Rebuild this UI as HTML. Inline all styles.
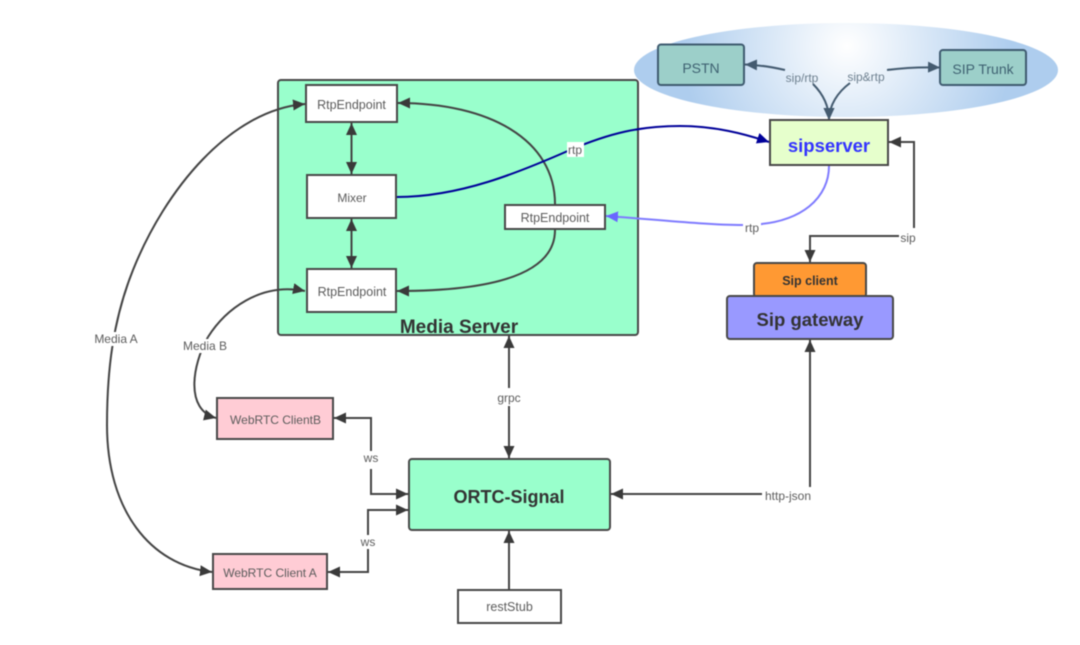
<!DOCTYPE html>
<html><head><meta charset="utf-8"><style>
html,body{margin:0;padding:0;background:#fff}
svg{display:block;filter:blur(.5px)}
text{font-family:"Liberation Sans","DejaVu Sans",sans-serif;text-anchor:middle;fill:#5c5c5c}
.b{font-weight:bold;fill:#333}
.l{fill:none;stroke:#444;stroke-width:2}
.n{stroke:#484848;stroke-width:2}
.lb{fill:#fff}
.sl{fill:none;stroke:#445b70;stroke-width:2}
</style></head><body>
<svg width="1080" height="645" viewBox="0 0 1080 645" xmlns="http://www.w3.org/2000/svg">
<defs>
<radialGradient id="g" gradientUnits="userSpaceOnUse" cx="847" cy="46" r="165">
<stop offset="0" stop-color="#fff"/><stop offset="1" stop-color="#aecdee"/></radialGradient>
<marker id="a" markerUnits="userSpaceOnUse" markerWidth="14" markerHeight="12" refX="12" refY="5.500" orient="auto-start-reverse"><path d="M0 0L12 5.500L0 11z" fill="#3a3a3a"/></marker>
<marker id="s" markerUnits="userSpaceOnUse" markerWidth="14" markerHeight="12" refX="12" refY="5.500" orient="auto-start-reverse"><path d="M0 0L12 5.500L0 11z" fill="#445b70"/></marker>
<marker id="d" markerUnits="userSpaceOnUse" markerWidth="14" markerHeight="12" refX="12" refY="5.500" orient="auto"><path d="M0 0L12 5.500L0 11z" fill="#000099"/></marker>
<marker id="v" markerUnits="userSpaceOnUse" markerWidth="14" markerHeight="12" refX="12" refY="5.500" orient="auto"><path d="M0 0L12 5.500L0 11z" fill="#6a66ff"/></marker>
</defs>
<rect width="1080" height="645" fill="#fff"/>
<ellipse cx="846" cy="70" rx="212" ry="47" fill="url(#g)"/>
<rect x="658" y="44.500" width="86" height="40.500" rx="3" fill="#9ccfc9" stroke="#3f5b70" stroke-width="2"/>
<rect x="940" y="50" width="86" height="35" rx="3" fill="#9ccfc9" stroke="#3f5b70" stroke-width="2"/>
<text x="701" y="73" font-size="14" style="fill:#3f6272">PSTN</text>
<text x="983" y="74" font-size="14" style="fill:#3f6272">SIP Trunk</text>
<path class="sl" d="M785 70C772 67 760 65 745 64.500" marker-end="url(#s)"/>
<path class="sl" d="M887 70C902 68 922 67 940 67.500" marker-end="url(#s)"/>
<path class="sl" d="M813 84C822 93 829 105 829 120" marker-end="url(#s)"/>
<path class="sl" d="M850 83C838 92 829 105 829 120" marker-end="url(#s)"/>
<rect x="278" y="80" width="360" height="255" rx="3" fill="#99ffcc" class="n"/>
<path class="l" d="M351.500 123V174" marker-start="url(#a)" marker-end="url(#a)"/>
<path class="l" d="M351.500 219V268" marker-start="url(#a)" marker-end="url(#a)"/>
<path class="l" d="M555 204C555 140 490 103 398 103" marker-end="url(#a)"/>
<path class="l" d="M555 230C555 275 490 291 397 291" marker-end="url(#a)"/>
<path class="l" d="M107 425C107 370 113 320 133 270C165 190 230 110 305 104" marker-end="url(#a)"/>
<path class="l" d="M107 425C107 510 150 565 212 572" marker-end="url(#a)"/>
<path class="l" d="M208 337C225 310 260 282 305 291" marker-end="url(#a)"/>
<path class="l" d="M208 337C192 365 185 410 216 418" marker-end="url(#a)"/>
<rect x="306" y="85" width="91" height="37" fill="#fff" class="n"/>
<rect x="307" y="175" width="89" height="43" fill="#fff" class="n"/>
<rect x="307" y="269" width="89" height="43" fill="#fff" class="n"/>
<rect x="505" y="205" width="100" height="24" fill="#fff" class="n"/>
<text x="351.500" y="109" font-size="12.500">RtpEndpoint</text>
<text x="352" y="202" font-size="12">Mixer</text>
<text x="352" y="296" font-size="12.500">RtpEndpoint</text>
<text x="555" y="222" font-size="12.500">RtpEndpoint</text>
<text x="459" y="333" font-size="19" class="b">Media Server</text>
<path d="M397 197C460 197 520 172 570 150C610 133 640 126 680 126C715 126 745 134 769 142" fill="none" stroke="#000099" stroke-width="2" marker-end="url(#d)"/>
<path d="M829 166C829 195 805 225 743 225C705 225 650 219 606 216" fill="none" stroke="#7f7bff" stroke-width="2" marker-end="url(#v)"/>
<rect x="567" y="142" width="17" height="15" fill="#fff"/>
<text x="575" y="154" font-size="12">rtp</text>
<rect x="770" y="120" width="118" height="45" fill="#e6ffcc" class="n"/>
<text x="829" y="152" font-size="18.500" class="b" style="fill:#3333ff">sipserver</text>
<path class="l" d="M914 228V142H889" marker-end="url(#a)"/>
<path class="l" d="M899 236H810V262" marker-end="url(#a)"/>
<rect x="754" y="263" width="112" height="34" rx="3" fill="#ff9933" class="n"/>
<rect x="727" y="296" width="166" height="43" rx="3" fill="#9999ff" class="n"/>
<text x="810" y="285" font-size="12.500" class="b">Sip client</text>
<text x="810" y="326" font-size="18.500" class="b">Sip gateway</text>
<path class="l" d="M810 487V340" marker-end="url(#a)"/>
<path class="l" d="M762 494H611" marker-end="url(#a)"/>
<path class="l" d="M509 388V336" marker-end="url(#a)"/>
<path class="l" d="M509 406V458" marker-end="url(#a)"/>
<rect x="409" y="459" width="201" height="71" rx="3" fill="#99ffcc" class="n"/>
<text x="509" y="503" font-size="18" class="b">ORTC-Signal</text>
<path class="l" d="M509 590V531" marker-end="url(#a)"/>
<rect x="458" y="590" width="103" height="33" fill="#fff" class="n"/>
<text x="509.500" y="611" font-size="12.500">restStub</text>
<rect x="217" y="398" width="116" height="41" fill="#ffccd5" class="n"/>
<rect x="213" y="554" width="114" height="35" fill="#ffccd5" class="n"/>
<text x="275.500" y="424" font-size="12">WebRTC ClientB</text>
<text x="270" y="577" font-size="12">WebRTC Client A</text>
<path class="l" d="M371 451V418H334" marker-end="url(#a)"/>
<path class="l" d="M371 469V494H408" marker-end="url(#a)"/>
<path class="l" d="M368 534V572H328" marker-end="url(#a)"/>
<path class="l" d="M368 534V510H408" marker-end="url(#a)"/>
<g font-size="12">
<rect x="92" y="332" width="48" height="14" class="lb"/><text x="116" y="343">Media A</text>
<rect x="181" y="339" width="47" height="14" class="lb"/><text x="205" y="350">Media B</text>
<rect x="495" y="390" width="28" height="15" class="lb"/><text x="509" y="402">grpc</text>
<rect x="362" y="451" width="18" height="14" class="lb"/><text x="371" y="462">ws</text>
<rect x="359" y="535" width="18" height="14" class="lb"/><text x="368" y="546">ws</text>
<rect x="762" y="488" width="52" height="14" class="lb"/><text x="788" y="500">http-json</text>
<rect x="899" y="231" width="19" height="14" class="lb"/><text x="908" y="242">sip</text>
<rect x="743" y="221" width="18" height="13" class="lb"/><text x="752" y="232">rtp</text>
<text x="802" y="82" style="fill:#6f8190">sip/rtp</text>
<text x="866" y="81" style="fill:#6f8190">sip&amp;rtp</text>
</g>
</svg>
</body></html>
